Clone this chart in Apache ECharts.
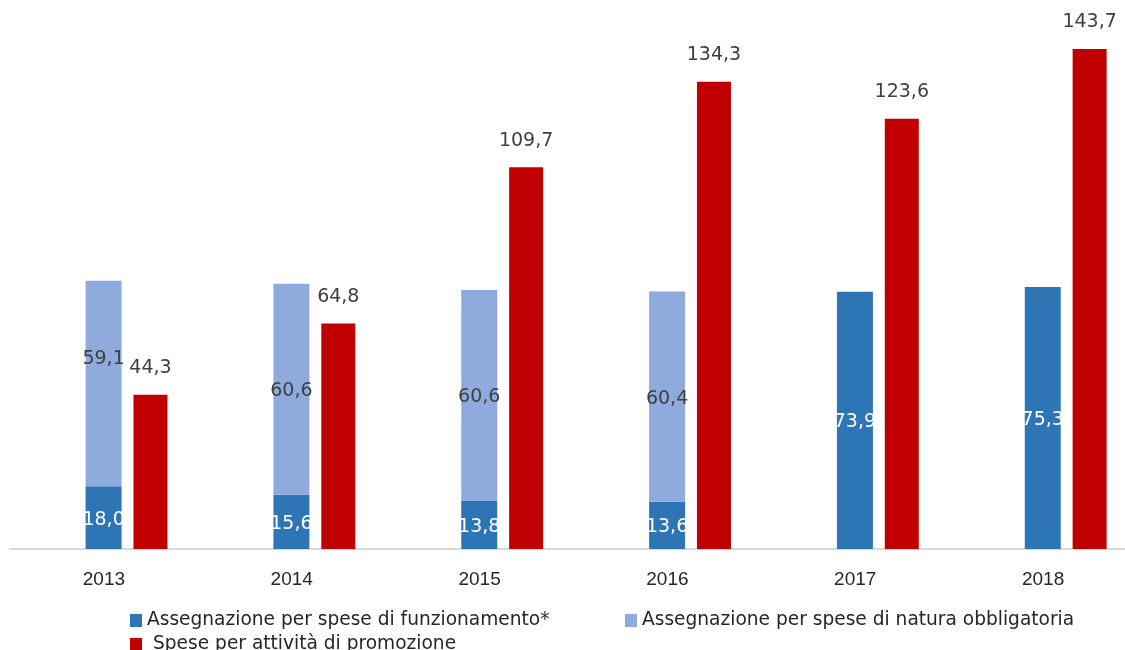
<!DOCTYPE html>
<html>
<head>
<meta charset="utf-8">
<script src="https://cdn.jsdelivr.net/npm/echarts@6/dist/echarts.min.js"></script>
<style>
  html, body { margin: 0; padding: 0; background: #fff; }
  #chart { width: 1125px; height: 650px; }
</style>
</head>
<body>
<div id="chart"></div>
<script>
// dati
const anni = ['2013', '2014', '2015', '2016', '2017', '2018']
const funzionamento = [18.0, 15.6, 13.8, 13.6, 73.9, 75.3]
const obbligatoria = [59.1, 60.6, 60.6, 60.4, null, null]
const promozione = [44.3, 64.8, 109.7, 134.3, 123.6, 143.7]

const nomi = [
  'Assegnazione per spese di funzionamento*',
  'Assegnazione per spese di natura obbligatoria',
  'Spese per attività di promozione'
]

const FONT = 'Liberation Sans'
const FONT_W = 'DejaVu Sans'
const fmt = (p) => p.value == null ? '' : p.value.toFixed(1).replace('.', ',')

const chart = echarts.init(document.getElementById('chart'))

const legendText = { fontFamily: FONT_W, fontSize: 18.6, color: '#262626' }
const legendBase = {
  orient: 'horizontal',
  itemWidth: 12,
  itemHeight: 13,
  itemGap: 6,
  icon: 'rect',
  textStyle: legendText
}

const option = {
  animation: false,
  legend: [
    Object.assign({}, legendBase, { left: 125, top: 606, data: [nomi[0]] }),
    Object.assign({}, legendBase, { left: 620, top: 606, data: [nomi[1]] }),
    Object.assign({}, legendBase, { left: 125, top: 630, data: [nomi[2]],
      textStyle: Object.assign({}, legendText, { padding: [0, 0, 0, 6] }) })
  ],
  grid: { left: 10, top: 27, width: 1127, height: 522, outerBoundsMode: 'none' },
  xAxis: {
    type: 'category',
    data: anni,
    axisLine: { lineStyle: { color: '#d9d9d9', width: 2 } },
    axisTick: { show: false },
    axisLabel: { fontFamily: FONT, fontSize: 19, color: '#262626', margin: 21 }
  },
  yAxis: {
    type: 'value',
    min: 0,
    max: 150,
    show: false,
    splitLine: { show: false }
  },
  series: [
    {
      // segnaposto vuoto per centrare la colonna impilata sulla categoria
      name: 'spacer',
      type: 'bar',
      barWidth: 34,
      barGap: '33%',
      data: []
    },
    {
      name: nomi[0],
      type: 'bar',
      stack: 'assegnazione',
      barWidth: 36,
      itemStyle: { color: '#2E75B6' },
      label: {
        show: true, position: 'inside', formatter: fmt,
        fontFamily: FONT_W, fontSize: 19, color: '#fff', offset: [0, 2]
      },
      data: funzionamento
    },
    {
      name: nomi[1],
      type: 'bar',
      stack: 'assegnazione',
      barWidth: 36,
      itemStyle: { color: '#8FAADC' },
      label: {
        show: true, position: 'inside', formatter: fmt,
        fontFamily: FONT_W, fontSize: 19, color: '#404040', offset: [0, 2]
      },
      data: obbligatoria.map((v, i) => i === 0 ? { value: v, label: { offset: [0, -24] } } : v)
    },
    {
      name: nomi[2],
      type: 'bar',
      barWidth: 34,
      itemStyle: { color: '#C00000' },
      label: {
        show: true, position: 'top', distance: 17, formatter: fmt,
        fontFamily: FONT_W, fontSize: 19, color: '#404040'
      },
      data: promozione
    }
  ]
}

chart.setOption(option)
</script>
</body>
</html>
